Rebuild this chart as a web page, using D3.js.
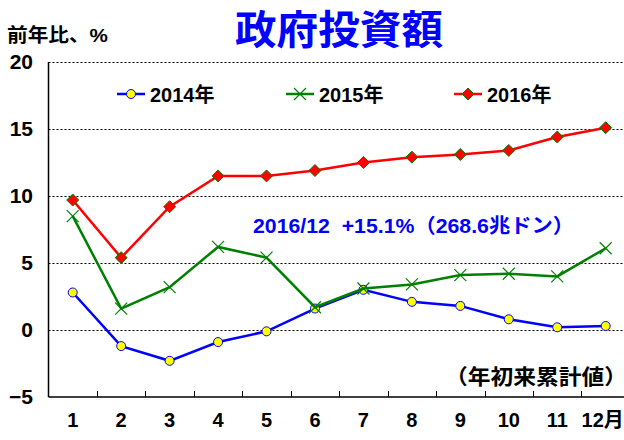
<!DOCTYPE html>
<html>
<head>
<meta charset="utf-8">
<script src="https://cdn.jsdelivr.net/npm/d3@7"></script>
<style>
  body { margin: 0; background: #fff; }
  text { font-family: "Liberation Sans", "Noto Sans CJK JP", sans-serif; font-weight: bold; }
</style>
</head>
<body>
<div id="chart"></div>
<script>
const months = [1, 2, 3, 4, 5, 6, 7, 8, 9, 10, 11, 12];
const monthLabels = ["1", "2", "3", "4", "5", "6", "7", "8", "9", "10", "11", "12月"];
const yTicks = [-5, 0, 5, 10, 15, 20];

const v2014 = [2.8, -1.2, -2.3, -0.9, -0.1, 1.6, 3.0, 2.1, 1.8, 0.8, 0.2, 0.3];
const v2015 = [8.5, 1.6, 3.2, 6.2, 5.4, 1.7, 3.1, 3.4, 4.1, 4.2, 4.0, 6.1];
const v2016 = [9.7, 5.4, 9.2, 11.5, 11.5, 11.9, 12.5, 12.9, 13.1, 13.4, 14.4, 15.1];

const width = 624, height = 440;
const margin = { left: 48.5, top: 62, bottom: 43 };

const svg = d3.select("#chart")
  .append("svg")
  .attr("width", width)
  .attr("height", height);

const x = d3.scaleBand()
  .domain(months)
  .range([margin.left, margin.left + 12 * 48.45]);

const y = d3.scaleLinear()
  .domain([-5, 20])
  .range([height - margin.bottom, margin.top]);

const cx = (d, i) => x(months[i]) + x.bandwidth() / 2;

// grid lines (dotted)
svg.selectAll("line.grid")
  .data(yTicks.filter((t) => t > -5))
  .enter()
  .append("line")
  .attr("class", "grid")
  .attr("x1", margin.left)
  .attr("x2", x.range()[1])
  .attr("y1", (d) => Math.round(y(d)) + 0.5)
  .attr("y2", (d) => Math.round(y(d)) + 0.5)
  .attr("stroke", "#000")
  .attr("stroke-width", 1)
  .attr("stroke-dasharray", "2,2");

// y axis line
svg.append("line")
  .attr("x1", margin.left).attr("x2", margin.left)
  .attr("y1", y(20)).attr("y2", y(-5))
  .attr("stroke", "#000").attr("stroke-width", 1.5);

// x axis with inward ticks at band boundaries
const xAxis = svg.append("g")
  .attr("transform", `translate(0,${y(-5)})`);
xAxis.append("line")
  .attr("x1", margin.left).attr("x2", x.range()[1])
  .attr("stroke", "#000").attr("stroke-width", 1.5);
xAxis.selectAll("line.tick")
  .data(months.slice(1))
  .enter()
  .append("line")
  .attr("class", "tick")
  .attr("x1", (d) => Math.round(x(d)) + 0.5)
  .attr("x2", (d) => Math.round(x(d)) + 0.5)
  .attr("y1", 0).attr("y2", -6)
  .attr("stroke", "#000").attr("stroke-width", 1);

xAxis.selectAll("text")
  .data(monthLabels)
  .enter()
  .append("text")
  .attr("x", (d, i) => cx(d, i) + (i === 11 ? -3 : 0))
  .attr("y", 30)
  .attr("text-anchor", "middle")
  .attr("font-size", 20)
  .text((d) => d);

// y labels
svg.selectAll("text.ylab")
  .data(yTicks)
  .enter()
  .append("text")
  .attr("class", "ylab")
  .attr("x", 33)
  .attr("y", (d) => y(d) + 7)
  .attr("text-anchor", "end")
  .attr("font-size", 21)
  .text((d) => (d < 0 ? "\u2212" + Math.abs(d) : d));

// lines
const line = d3.line().x(cx).y((d) => y(d));

function drawSeries(values, color) {
  svg.append("path")
    .datum(values)
    .attr("d", line)
    .attr("fill", "none")
    .attr("stroke", color)
    .attr("stroke-width", 2.5);
}

function circles(g, pts) {
  g.selectAll("circle")
    .data(pts)
    .enter()
    .append("circle")
    .attr("cx", (d) => d[0]).attr("cy", (d) => d[1])
    .attr("r", 4.5)
    .attr("fill", "#ffff00")
    .attr("stroke", "#0000ff")
    .attr("stroke-width", 1);
}
function crosses(g, pts) {
  g.selectAll("path")
    .data(pts)
    .enter()
    .append("path")
    .attr("d", (d) => `M${d[0] - 6},${d[1] - 6}L${d[0] + 6},${d[1] + 6}M${d[0] - 6},${d[1] + 6}L${d[0] + 6},${d[1] - 6}`)
    .attr("stroke", "#008000")
    .attr("stroke-width", 1.2)
    .attr("fill", "none");
}
function diamonds(g, pts) {
  g.selectAll("path")
    .data(pts)
    .enter()
    .append("path")
    .attr("d", (d) => `M${d[0]},${d[1] - 6}L${d[0] + 6},${d[1]}L${d[0]},${d[1] + 6}L${d[0] - 6},${d[1]}Z`)
    .attr("fill", "#ff0000")
    .attr("stroke", "#008000")
    .attr("stroke-width", 1);
}

const pts = (vals) => vals.map((v, i) => [cx(v, i), y(v)]);

drawSeries(v2014, "#0000ff");
circles(svg.append("g"), pts(v2014));
drawSeries(v2015, "#008000");
crosses(svg.append("g"), pts(v2015));
drawSeries(v2016, "#ff0000");
diamonds(svg.append("g"), pts(v2016));

// legend
const legend = [
  { name: "2014年", color: "#0000ff", marker: circles, x0: 117 },
  { name: "2015年", color: "#008000", marker: crosses, x0: 286 },
  { name: "2016年", color: "#ff0000", marker: diamonds, x0: 454 },
];
const ly = 94;
legend.forEach((l) => {
  svg.append("line")
    .attr("x1", l.x0).attr("x2", l.x0 + 28)
    .attr("y1", ly).attr("y2", ly)
    .attr("stroke", l.color).attr("stroke-width", 2.5);
  const g = svg.append("g");
  l.marker(g, [[l.x0 + 14, ly]]);
  svg.append("text")
    .attr("x", l.x0 + 33)
    .attr("y", ly + 8)
    .attr("font-size", 20)
    .text(l.name);
});

// title and texts
svg.append("text")
  .attr("x", 235).attr("y", 44)
  .attr("font-size", 40)
  .attr("fill", "#0000ff")
  .attr("textLength", 208)
  .attr("lengthAdjust", "spacingAndGlyphs")
  .text("政府投資額");

svg.append("text")
  .attr("x", 7).attr("y", 42)
  .attr("font-size", 19)
  .attr("textLength", 101)
  .attr("lengthAdjust", "spacingAndGlyphs")
  .text("前年比、%");

svg.append("text")
  .attr("x", 253).attr("y", 233)
  .attr("font-size", 20)
  .attr("fill", "#0000ff")
  .style("white-space", "pre")
  .attr("textLength", 321)
  .attr("lengthAdjust", "spacingAndGlyphs")
  .text("2016/12  +15.1%（268.6兆ドン）");

svg.append("text")
  .attr("x", 445).attr("y", 384)
  .attr("font-size", 21)
  .attr("textLength", 182)
  .attr("lengthAdjust", "spacingAndGlyphs")
  .text("（年初来累計値）");
</script>
</body>
</html>
